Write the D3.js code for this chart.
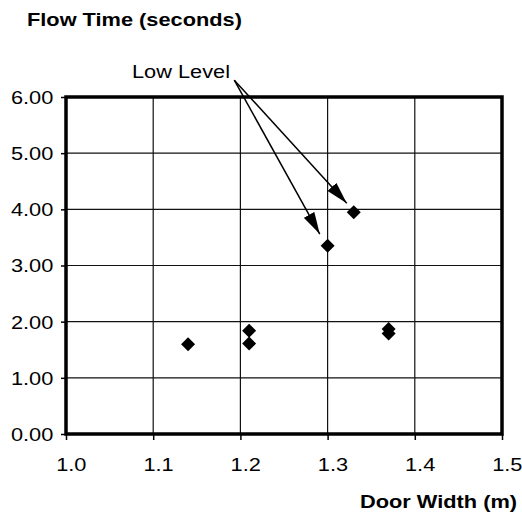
<!DOCTYPE html>
<html>
<head>
<meta charset="utf-8">
<script src="https://cdn.jsdelivr.net/npm/d3@7"></script>
<style>
  html, body { margin: 0; padding: 0; background: #fff; }
  text { font-family: "Liberation Sans", Arial, Helvetica, sans-serif; fill: #000; }
</style>
</head>
<body>
<svg id="chart" width="522" height="514"></svg>
<script>
// ---- data ----
const doorWidth = [1.14, 1.21, 1.21, 1.30, 1.33, 1.37, 1.37];
const flowTime  = [1.60, 1.84, 1.61, 3.35, 3.95, 1.87, 1.79];
const xTicks = [1.0, 1.1, 1.2, 1.3, 1.4, 1.5];
const yTicks = [0, 1, 2, 3, 4, 5, 6];
const yTitle = "Flow Time (seconds)";
const xTitle = "Door Width (m)";
const annotationText = "Low Level";
const annotationFrom = [1.193, 6.30];
const annotationTargets = [[1.291, 3.56], [1.322, 4.11]];

// ---- layout ----
const svg = d3.select("#chart");
const m = { left: 66, right: 502, top: 97, bottom: 434 };
const sx = 1.21; // horizontal stretch of the original type
const fs = 18;

const x = d3.scaleLinear().domain([1.0, 1.5]).range([m.left, m.right]);
const y = d3.scaleLinear().domain([0, 6]).range([m.bottom, m.top]);

// gridlines
svg.append("g")
  .selectAll("line.vg").data(xTicks.slice(1, -1)).join("line")
  .attr("x1", d => x(d)).attr("x2", d => x(d))
  .attr("y1", m.top).attr("y2", m.bottom)
  .attr("stroke", "#111").attr("stroke-width", 1.2);
svg.append("g")
  .selectAll("line.hg").data(yTicks.slice(1, -1)).join("line")
  .attr("x1", m.left).attr("x2", m.right)
  .attr("y1", d => y(d)).attr("y2", d => y(d))
  .attr("stroke", "#111").attr("stroke-width", 1.2);

// frame
svg.append("rect")
  .attr("x", m.left).attr("y", m.top)
  .attr("width", m.right - m.left).attr("height", m.bottom - m.top)
  .attr("fill", "none").attr("stroke", "#000").attr("stroke-width", 3.5);

// axes
const yAxis = svg.append("g").attr("transform", `translate(${m.left},0)`)
  .call(d3.axisLeft(y).tickValues(yTicks).tickFormat(d3.format(".2f")).tickSize(5).tickSizeOuter(0));
yAxis.select(".domain").remove();
yAxis.selectAll("line").attr("stroke", "#000").attr("stroke-width", 1.5);
yAxis.selectAll("text")
  .attr("x", -10.5).attr("dy", "0.36em")
  .attr("transform", `scale(${sx},1)`)
  .style("font-size", fs + "px").attr("fill", "#000");

const xAxis = svg.append("g").attr("transform", `translate(0,${m.bottom})`)
  .call(d3.axisBottom(x).tickValues(xTicks).tickFormat(d3.format(".1f")).tickSize(6).tickSizeOuter(0));
xAxis.select(".domain").remove();
xAxis.selectAll("line").attr("stroke", "#000").attr("stroke-width", 1.5);
xAxis.selectAll("text")
  .attr("x", 4).attr("y", 37).attr("dy", 0)
  .attr("transform", `scale(${sx},1)`)
  .style("font-size", fs + "px").attr("fill", "#000");

// titles
svg.append("text")
  .attr("transform", `translate(27,26) scale(${sx},1)`)
  .style("font-size", fs + "px").style("font-weight", "bold")
  .text(yTitle);
svg.append("text")
  .attr("transform", `translate(517,508) scale(${sx},1)`)
  .attr("text-anchor", "end")
  .style("font-size", fs + "px").style("font-weight", "bold")
  .text(xTitle);

// annotation
svg.append("text")
  .attr("transform", `translate(132,78) scale(${sx},1)`)
  .style("font-size", fs + "px")
  .text(annotationText);

const defs = svg.append("defs");
defs.append("marker")
  .attr("id", "ah").attr("viewBox", "0 0 22 12")
  .attr("refX", 22).attr("refY", 6)
  .attr("markerWidth", 22).attr("markerHeight", 12)
  .attr("markerUnits", "userSpaceOnUse")
  .attr("orient", "auto")
  .append("path").attr("d", "M0,0 L22,6 L0,12 Z").attr("fill", "#000");

svg.append("g").selectAll("line").data(annotationTargets).join("line")
  .attr("x1", x(annotationFrom[0])).attr("y1", y(annotationFrom[1]))
  .attr("x2", d => x(d[0])).attr("y2", d => y(d[1]))
  .attr("stroke", "#000").attr("stroke-width", 1.5)
  .attr("marker-end", "url(#ah)");

// points
const pts = doorWidth.map((d, i) => [d, flowTime[i]]);
svg.append("g").selectAll("path").data(pts).join("path")
  .attr("transform", d => `translate(${x(d[0])},${y(d[1])})`)
  .attr("d", "M0,-7 L7,0 L0,7 L-7,0 Z")
  .attr("fill", "#000");
</script>
</body>
</html>
